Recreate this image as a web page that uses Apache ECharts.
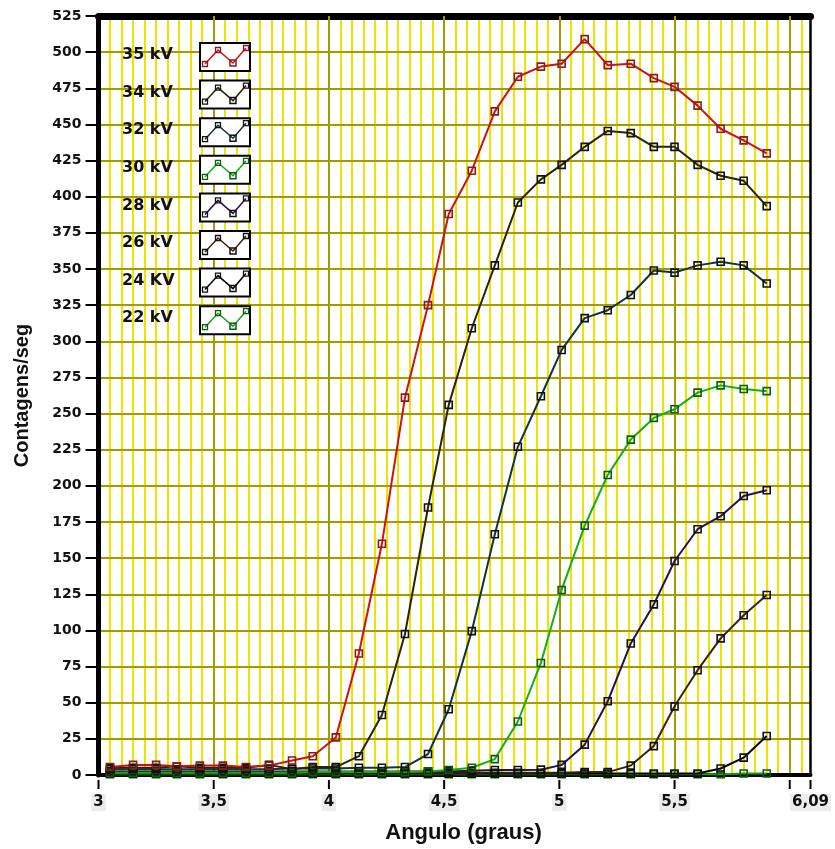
<!DOCTYPE html>
<html>
<head>
<meta charset="utf-8">
<script src="https://cdn.jsdelivr.net/npm/echarts@6/dist/echarts.min.js"></script>
<style>
  html, body { margin: 0; padding: 0; background: #fff; }
  #chart { width: 835px; height: 849px; }
</style>
</head>
<body>
<div id="chart"></div>
<script>
// angulo (graus), mesmo para todas as curvas
var angulo = [3.05, 3.15, 3.25, 3.34, 3.44, 3.54, 3.64, 3.74, 3.84, 3.93,
    4.03, 4.13, 4.23, 4.33, 4.43, 4.52, 4.62, 4.72, 4.82, 4.92,
    5.01, 5.11, 5.21, 5.31, 5.41, 5.50, 5.60, 5.70, 5.80, 5.90];

// contagens/seg por tensao
var kv35 = [5.5, 7, 7, 6, 6.5, 6.5, 5.5, 6.5, 10, 13,
    26, 84, 160, 261, 325, 388, 418, 459, 483, 490,
    492, 509, 491, 492, 482, 476, 463, 447, 439, 430];
var kv34 = [5, 5, 5, 6, 5, 5, 5, 7, 4, 5.5,
    5.5, 13, 41.5, 97.5, 185, 256, 309, 352.5, 396, 412,
    422, 434.5, 445.5, 444, 434.5, 434.5, 422, 414.5, 411, 393.5];
var kv32 = [4, 4, 4, 4, 4, 4, 4, 4, 4.5, 4.5,
    4.5, 5, 5, 5.5, 14.5, 45.5, 99.5, 166.5, 227, 262,
    294, 316, 321.5, 332, 349, 347.5, 352.5, 355, 352.5, 340];
var kv30 = [1.5, 1.5, 1.5, 1.5, 1.5, 1.5, 1.5, 1.5, 1.5, 2,
    2, 2, 2, 2, 2.5, 3.5, 5, 11, 37, 77.5,
    128, 172.5, 207.5, 232, 247, 253, 264.5, 269.5, 267, 265.5];
var kv28 = [2.5, 2.5, 2.5, 2.5, 2.5, 2.5, 2.5, 2.5, 2.5, 2.5,
    2.5, 2.5, 2.5, 2.5, 2.5, 2.5, 3, 3.5, 3.5, 3.7,
    7, 21, 51, 91, 118, 148, 170, 179, 193, 197];
var kv26 = [1.5, 1.5, 1.5, 1.5, 1.5, 1.5, 1.5, 1.5, 1.5, 1.5,
    1.5, 1.5, 1.5, 1.5, 1.5, 1.5, 1.5, 1.5, 1.5, 1.5,
    1.5, 2, 2, 6.5, 20, 47.5, 72.5, 94.5, 110.5, 124.5];
var kv24 = [1, 1, 1, 1, 1, 1, 1, 1, 1, 1,
    1, 1, 1, 1, 1, 1, 1, 1, 1, 1,
    1, 1, 1, 1, 1, 1, 1, 4.5, 12, 27];
var kv22 = [0.5, 0.5, 0.5, 0.5, 0.5, 0.5, 0.5, 0.5, 0.5, 0.5,
    0.5, 0.5, 0.5, 0.5, 0.5, 0.5, 0.5, 0.5, 0.5, 0.5,
    0.5, 0.5, 0.5, 0.5, 0.5, 0.5, 0.5, 0.5, 1, 1];

var nomes = ['35 kV', '34 kV', '32 kV', '30 kV', '28 kV', '26 kV', '24 KV', '22 kV'];
var valores = [kv35, kv34, kv32, kv30, kv28, kv26, kv24, kv22];
var corLinha = ['#cc1212', '#2b2300', '#0e3440', '#14ad14', '#2a0f4a', '#3d2208', '#000000', '#18a018'];
var corMarca = ['#8b1a1a', '#111111', '#111111', '#0b5e0b', '#111111', '#111111', '#111111', '#0b5e0b'];

// marcas do eixo x (o 6 tem marca mas nao tem rotulo)
var xTicks = [3, 3.5, 4, 4.5, 5, 5.5, 6, 6.09];
var semRotulo = [6];

var myChart = echarts.init(document.getElementById('chart'));

function pares(ys) {
    var out = [];
    for (var i = 0; i < ys.length; i++) {
        out.push([angulo[i], ys[i]]);
    }
    return out;
}

function montaSeries() {
    // desenha 22 kV primeiro para 35 kV ficar por cima
    var lista = [];
    for (var i = valores.length - 1; i >= 0; i--) {
        lista.push({
            name: nomes[i],
            type: 'line',
            xAxisIndex: 0,
            yAxisIndex: 0,
            data: pares(valores[i]),
            symbol: 'rect',
            symbolSize: 7,
            showAllSymbol: true,
            lineStyle: { color: corLinha[i], width: 2 },
            itemStyle: { color: 'transparent', borderColor: corMarca[i], borderWidth: 1.6 },
            emphasis: { disabled: true },
            animation: false
        });
    }
    // tracinhos abaixo do eixo x
    lista.push({
        type: 'custom',
        xAxisIndex: 0,
        yAxisIndex: 0,
        clip: false,
        silent: true,
        z: 5,
        data: xTicks.map(function (v) { return [v, 0]; }),
        renderItem: function (params, api) {
            var p = api.coord([api.value(0), 0]);
            return {
                type: 'line',
                shape: { x1: p[0], y1: p[1] + 5, x2: p[0], y2: p[1] + 14 },
                style: { stroke: '#000', lineWidth: 2 }
            };
        },
        animation: false
    });
    return lista;
}

// legenda desenhada a mao (caixa com zigue-zague)
function montaLegenda() {
    var lista = [];
    for (var j = 0; j < nomes.length; j++) {
        var y0 = 42 + j * 37.6;
        lista.push({
            type: 'text',
            z: 100,
            left: 122,
            top: y0 + 5,
            style: { text: nomes[j], font: 'bold 16px "DejaVu Sans"', fill: '#111' }
        });
        lista.push({
            type: 'group',
            z: 100,
            left: 199,
            top: y0,
            children: [
                { type: 'rect', z: 100, shape: { x: 0, y: 0, width: 50, height: 28 },
                  style: { fill: '#fff', stroke: '#000', lineWidth: 2 } },
                { type: 'polyline', z: 101, shape: { points: [[5, 21], [18, 7], [33, 20], [46, 5]] },
                  style: { stroke: corLinha[j], lineWidth: 1.5, fill: null } },
                { type: 'rect', z: 102, shape: { x: 2.5, y: 18.5, width: 5, height: 5 },
                  style: { fill: null, stroke: corMarca[j], lineWidth: 1.3 } },
                { type: 'rect', z: 102, shape: { x: 15.5, y: 4.5, width: 5, height: 5 },
                  style: { fill: null, stroke: corMarca[j], lineWidth: 1.3 } },
                { type: 'rect', z: 102, shape: { x: 30, y: 17, width: 6, height: 6 },
                  style: { fill: null, stroke: corMarca[j], lineWidth: 1.5 } },
                { type: 'rect', z: 102, shape: { x: 43.5, y: 2.5, width: 5, height: 5 },
                  style: { fill: null, stroke: corMarca[j], lineWidth: 1.3 } }
            ]
        });
    }
    return lista;
}

var option = {
    backgroundColor: '#fff',
    animation: false,
    grid: { left: 98.5, right: 24.5, top: 16, bottom: 70.5, containLabel: false },
    xAxis: [
        {
            // eixo principal: rotulos e grade forte a cada 0,5
            type: 'value', position: 'bottom', min: 3, max: 6.09, interval: 0.5,
            z: 1,
            name: 'Angulo (graus)',
            nameLocation: 'middle',
            nameGap: 47,
            nameTextStyle: { fontFamily: 'Liberation Sans', fontWeight: 'bold', fontSize: 22, color: '#111', padding: [0, 0, 0, 18] },
            axisLine: { show: true, onZero: false, lineStyle: { color: '#000', width: 4 } },
            axisTick: { show: false },
            axisLabel: {
                show: true,
                showMaxLabel: true,
                margin: 19,
                formatter: function (v) {
                    if (semRotulo.indexOf(v) >= 0) return '';
                    return '{r|' + String(v).replace('.', ',') + '}';
                },
                rich: {
                    r: {
                        fontFamily: 'DejaVu Sans', fontWeight: 'bold', fontSize: 15, color: '#111',
                        backgroundColor: '#ececec', padding: [1, 2]
                    }
                }
            },
            splitLine: { show: true, showMinLine: false, showMaxLine: false, lineStyle: { color: '#a59a00', width: 2 } }
        },
        {
            // grade fina a cada 0,05 e borda de cima
            type: 'value', position: 'top', min: 3, max: 6.09, interval: 0.05,
            z: 0,
            axisLine: { show: true, onZero: false, lineStyle: { color: '#000', width: 7 } },
            axisTick: { show: false },
            axisLabel: { show: false },
            splitLine: { show: true, showMinLine: false, showMaxLine: false, lineStyle: { color: '#ece300', width: 2 } }
        }
    ],
    yAxis: [
        {
            type: 'value', position: 'left', min: 0, max: 525, interval: 25,
            z: 1,
            name: 'Contagens/seg',
            nameLocation: 'middle',
            nameGap: 66,
            nameTextStyle: { fontFamily: 'Liberation Sans', fontWeight: 'bold', fontSize: 20, color: '#111' },
            axisLine: { show: true, onZero: false, lineStyle: { color: '#000', width: 5 } },
            axisTick: { show: true, inside: false, length: 13, lineStyle: { color: '#000', width: 2 } },
            axisLabel: { margin: 17, fontFamily: 'DejaVu Sans', fontWeight: 'bold', fontSize: 14, color: '#111' },
            splitLine: { show: true, showMinLine: false, showMaxLine: false, lineStyle: { color: '#a59a00', width: 2 } }
        },
        {
            // borda da direita
            type: 'value', position: 'right', min: 0, max: 525, interval: 25,
            z: 1,
            axisLine: { show: true, onZero: false, lineStyle: { color: '#000', width: 2.5 } },
            axisTick: { show: false },
            axisLabel: { show: false },
            splitLine: { show: false }
        }
    ],
    graphic: montaLegenda(),
    series: montaSeries()
};

myChart.setOption(option);
</script>
</body>
</html>
